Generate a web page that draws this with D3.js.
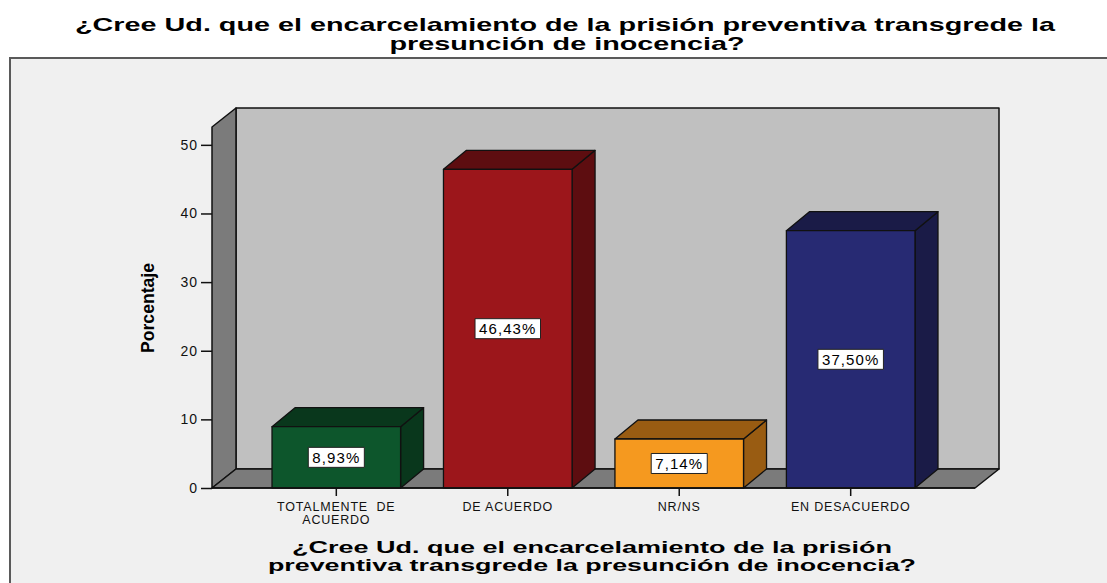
<!DOCTYPE html>
<html>
<head>
<meta charset="utf-8">
<script src="https://cdn.jsdelivr.net/npm/d3@7"></script>
<style>
  body { margin: 0; background: #fff; }
  text { font-family: "Liberation Sans", Arial, sans-serif; }
</style>
</head>
<body>
<div id="chart"></div>
<script>
const categories = ["TOTALMENTE  DE|ACUERDO", "DE ACUERDO", "NR/NS", "EN DESACUERDO"]
const values = [8.93, 46.43, 7.14, 37.50]
const valueLabels = ["8,93%", "46,43%", "7,14%", "37,50%"]
const frontColors = ["#0d562c", "#9c161b", "#f5991f", "#272a73"]
const darkColors = ["#09371c", "#5d0d10", "#995c12", "#1a1b47"]
const yTicks = [0, 10, 20, 30, 40, 50]

const width = 1107, height = 583
const depth_x = 24, depth_y = -19

const svg = d3.select("#chart").append("svg")
    .attr("width", width).attr("height", height)

// title
const title = ["¿Cree Ud. que el encarcelamiento de la prisión preventiva transgrede la", "presunción de inocencia?"]
svg.append("text").attr("x", 565).attr("y", 31)
    .attr("text-anchor", "middle").attr("font-weight", "bold").attr("font-size", 19)
    .attr("textLength", 980).attr("lengthAdjust", "spacingAndGlyphs")
    .text(title[0])
svg.append("text").attr("x", 567).attr("y", 50)
    .attr("text-anchor", "middle").attr("font-weight", "bold").attr("font-size", 19)
    .attr("textLength", 355).attr("lengthAdjust", "spacingAndGlyphs")
    .text(title[1])

// outer frame
svg.append("rect").attr("x", 10).attr("y", 58).attr("width", 1110).attr("height", 540)
    .attr("fill", "#f0f0f0").attr("stroke", "#5a5a5a").attr("stroke-width", 2)

const y = d3.scaleLinear().domain([0, 52.6]).range([488, 127])
const x = d3.scaleBand().domain(categories).range([212, 975])
    .paddingInner(0.25).paddingOuter(0.35)

const x0 = x.range()[0], x1 = x.range()[1]
const yb = y(0), yt = y.range()[1]

const walls = svg.append("g").attr("stroke", "#111").attr("stroke-width", 1.5).attr("stroke-linejoin", "round")
// back wall
walls.append("rect").attr("x", x0 + depth_x).attr("y", yt + depth_y)
    .attr("width", x1 - x0).attr("height", yb - yt)
    .attr("fill", "#c0c0c0")
// left wall
walls.append("polygon").attr("fill", "#7b7b7b")
    .attr("points", [[x0, yt], [x0 + depth_x, yt + depth_y], [x0 + depth_x, yb + depth_y], [x0, yb]].join(" "))
// floor
walls.append("polygon").attr("fill", "#7b7b7b")
    .attr("points", [[x0, yb], [x1, yb], [x1 + depth_x, yb + depth_y], [x0 + depth_x, yb + depth_y]].join(" "))

// bars
const bars = svg.append("g").selectAll("g").data(categories).join("g")
    .attr("stroke", "#111").attr("stroke-width", 1.3).attr("stroke-linejoin", "round")
bars.each(function (c, i) {
    const g = d3.select(this)
    const bx = x(c), bw = x.bandwidth(), by = y(values[i])
    const dx = depth_x - 1, dy = depth_y
    g.append("polygon").attr("fill", darkColors[i])
        .attr("points", [[bx + bw, by], [bx + bw + dx, by + dy], [bx + bw + dx, yb + dy], [bx + bw, yb]].join(" "))
    g.append("polygon").attr("fill", darkColors[i])
        .attr("points", [[bx, by], [bx + dx, by + dy], [bx + bw + dx, by + dy], [bx + bw, by]].join(" "))
    g.append("rect").attr("x", bx).attr("y", by).attr("width", bw).attr("height", yb - by)
        .attr("fill", frontColors[i])
})

// value labels
bars.each(function (c, i) {
    const g = d3.select(this)
    const cx = x(c) + x.bandwidth() / 2, cy = (y(values[i]) + yb) / 2
    const box = g.append("rect").attr("fill", "#fff").attr("stroke", "#222").attr("stroke-width", 1)
    const t = g.append("text").attr("x", cx).attr("y", cy + 5.5).attr("stroke", "none")
        .attr("text-anchor", "middle").attr("font-size", 15).attr("fill", "#000")
        .attr("letter-spacing", 1.1)
        .text(valueLabels[i])
    const w = t.node().getComputedTextLength() + 8
    box.attr("x", cx - w / 2).attr("y", cy - 10).attr("width", w).attr("height", 20)
})

// y axis
const yAxis = svg.append("g").attr("transform", `translate(${x0},0)`)
    .call(d3.axisLeft(y).tickValues(yTicks).tickSize(11).tickPadding(3).tickFormat(d3.format("d")))
yAxis.select(".domain").remove()
yAxis.selectAll(".tick line").attr("stroke", "#111").attr("stroke-width", 1.5)
yAxis.selectAll(".tick text").attr("font-size", 14).attr("fill", "#111")
    .attr("font-family", "Liberation Sans, Arial, sans-serif").attr("letter-spacing", 1)

// x axis
const xAxis = svg.append("g").attr("transform", `translate(0,${yb})`)
    .call(d3.axisBottom(x).tickSize(8).tickFormat(""))
xAxis.select(".domain").attr("stroke", "#111").attr("stroke-width", 1.5)
    .attr("d", `M${x0},0H${x1}`)
xAxis.selectAll(".tick line").attr("stroke", "#111").attr("stroke-width", 1.5)
xAxis.selectAll(".tick").each(function (c) {
    const lines = c.split("|")
    lines.forEach((l, k) => {
        d3.select(this).append("text").attr("fill", "#111").attr("text-anchor", "middle")
            .attr("font-size", 12.5).attr("font-family", "Liberation Sans, Arial, sans-serif")
            .attr("letter-spacing", 0.8).attr("xml:space", "preserve")
            .attr("x", 0).attr("y", 23 + k * 13).text(l)
    })
})

// axis titles
svg.append("text").attr("transform", `translate(154,308) rotate(-90)`)
    .attr("text-anchor", "middle").attr("font-weight", "bold").attr("font-size", 19)
    .attr("textLength", 90).attr("lengthAdjust", "spacingAndGlyphs")
    .text("Porcentaje")

const xTitle = ["¿Cree Ud. que el encarcelamiento de la prisión", "preventiva transgrede la presunción de inocencia?"]
const xTitleLen = [600, 648]
xTitle.forEach((l, k) => {
    svg.append("text").attr("x", 592).attr("y", 553 + k * 18)
        .attr("text-anchor", "middle").attr("font-weight", "bold").attr("font-size", 17)
        .attr("font-family", "DejaVu Sans, sans-serif")
        .attr("textLength", xTitleLen[k]).attr("lengthAdjust", "spacingAndGlyphs")
        .text(l)
})
</script>
</body>
</html>
